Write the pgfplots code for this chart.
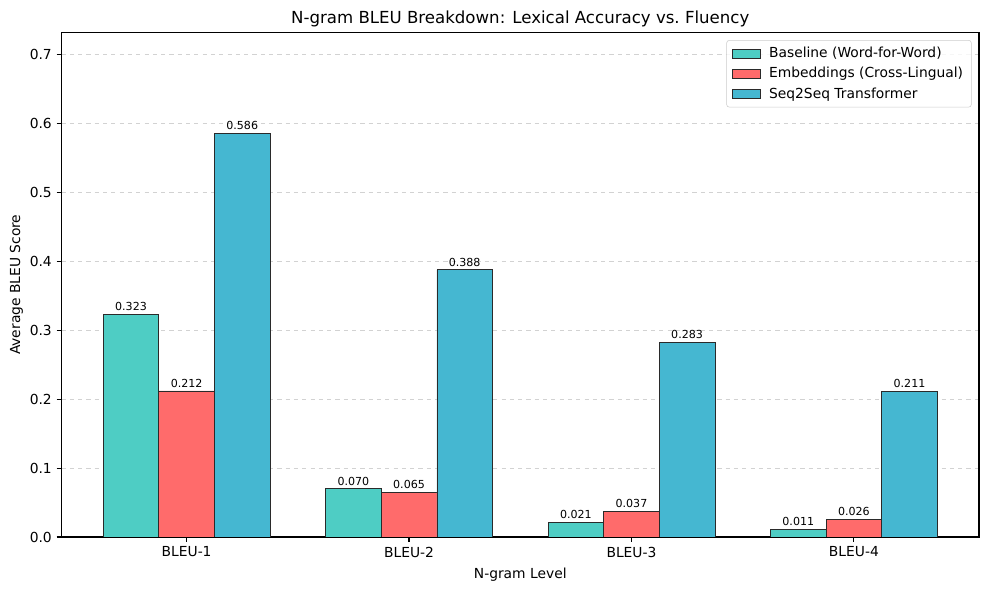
\documentclass[border=0pt]{standalone}
\usepackage{pgfplots}
\pgfplotsset{compat=1.18}
\usepackage{fontspec}
\setmainfont{DejaVu Sans}
\definecolor{cBase}{HTML}{4ECDC4}
\definecolor{cEmb}{HTML}{FF6B6B}
\definecolor{cSeq}{HTML}{45B7D1}
\definecolor{cEdge}{HTML}{2A2A2A}
\begin{document}
\begin{tikzpicture}
\begin{axis}[
  at={(0,0)}, anchor=south west,
  scale only axis,
  width=9.175in, height=5.045in,
  ybar,
  xmin=-0.5625, xmax=3.5625,
  ymin=0, ymax=0.7325,
  xtick={0,1,2,3},
  xticklabels={BLEU-1,BLEU-2,BLEU-3,BLEU-4},
  ytick={0,0.1,...,0.7},
  /pgf/number format/assume math mode=true,
  yticklabel style={/pgf/number format/.cd, fixed, fixed zerofill, precision=1},
  tick label style={font=\fontsize{10}{12}\selectfont},
  tick align=outside,
  tick style={black, line width=0.8pt},
  major tick length=3.5pt,
  xtick pos=bottom, ytick pos=left,
  axis line style={black, line width=0.8pt},
  ymajorgrids,
  grid style={dashed, gray!35, line width=0.6pt},
  title={N-gram BLEU Breakdown: Lexical Accuracy vs.\ Fluency},
  title style={font=\fontsize{12}{14}\selectfont, yshift=-5.5pt},
  xlabel={N-gram Level},
  ylabel={Average BLEU Score},
  label style={font=\fontsize{10}{12}\selectfont},
  ylabel style={yshift=-2pt},
  xlabel style={yshift=-1pt},
  legend style={at={(0.992,0.985)}, anchor=north east,
    font=\fontsize{10}{12}\selectfont,
    draw=gray!40, rounded corners=2pt, fill=white, fill opacity=0.8, text opacity=1,
    row sep=1.5pt, inner xsep=4pt, inner ysep=3pt},
  legend cell align=left,
  legend image code/.code={\draw[#1, sharp corners, fill opacity=1] (0cm,-0.11cm) rectangle (0.7cm,0.11cm);
    \path (0.85cm,0cm);},
  bar width=0.25,
  every axis plot/.append style={draw=cEdge, line width=0.5pt},
  nodes near coords,
  nodes near coords style={font=\fontsize{8}{9}\selectfont, /pgf/number format/.cd, fixed, fixed zerofill, precision=3, /pgf/number format/assume math mode=true, /tikz/yshift=-1pt},
]
\addplot[fill=cBase, bar shift=-0.25] coordinates {(0,0.323) (1,0.070) (2,0.021) (3,0.011)};
\addplot[fill=cEmb, bar shift=0] coordinates {(0,0.212) (1,0.065) (2,0.037) (3,0.026)};
\addplot[fill=cSeq, bar shift=0.25] coordinates {(0,0.586) (1,0.388) (2,0.283) (3,0.211)};
\legend{Baseline (Word-for-Word), Embeddings (Cross-Lingual), Seq2Seq Transformer}
\end{axis}
\path[use as bounding box] (-0.615in,-0.53in) rectangle (9.275in,5.37in);
\end{tikzpicture}
\end{document}
